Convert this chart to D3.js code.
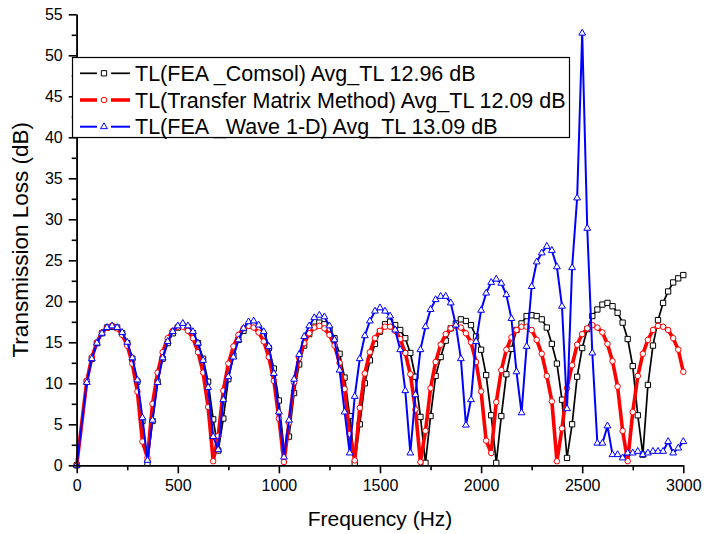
<!DOCTYPE html>
<html>
<head>
<meta charset="utf-8">
<script src="https://cdn.jsdelivr.net/npm/d3@7/dist/d3.min.js"></script>
<style>
  html, body { margin: 0; padding: 0; background: #fff; }
  svg { display: block; }
  text { font-family: "Liberation Sans", Arial, sans-serif; fill: #000; }
</style>
</head>
<body>
<svg id="chart" width="704" height="534"></svg>
<script>
// ---------- data ----------
const freq = [0, 50, 75, 100, 125, 150, 175, 200, 225, 250, 275, 300, 325, 350, 375, 400, 425, 450, 475, 500,
  525, 550, 575, 600, 625, 650, 675, 700, 725, 750, 775, 800, 825, 850, 875, 900, 925, 950, 975, 1000,
  1025, 1050, 1075, 1100, 1125, 1150, 1175, 1200, 1225, 1250, 1275, 1300, 1325, 1350, 1375, 1400, 1425, 1450, 1475, 1500,
  1525, 1550, 1575, 1600, 1625, 1650, 1675, 1700, 1725, 1750, 1775, 1800, 1825, 1850, 1875, 1900, 1925, 1950, 1975, 2000,
  2025, 2050, 2075, 2100, 2125, 2150, 2175, 2200, 2225, 2250, 2275, 2300, 2325, 2350, 2375, 2400, 2425, 2450, 2475, 2500,
  2525, 2550, 2575, 2600, 2625, 2650, 2675, 2700, 2725, 2750, 2775, 2800, 2825, 2850, 2875, 2900, 2925, 2950, 2975, 3000];

const tlComsol = [0, 10.2, 13.0, 14.9, 16.1, 16.8, 16.9, 16.8, 16.1, 14.9, 13.0, 10.2, 5.4, 0.3, 5.4, 10.2, 13.0, 14.9, 16.1, 16.8,
  17.0, 16.8, 16.1, 14.9, 13.0, 10.2, 5.6, 1.8, 5.7, 10.5, 13.4, 15.3, 16.4, 17.0, 17.2, 16.7, 15.8, 14.3, 11.8, 7.9,
  2.0, 3.5, 8.8, 12.3, 14.6, 16.0, 16.9, 17.4, 17.2, 16.6, 15.5, 13.6, 10.7, 6.0, 0.3, 5.0, 10.0, 12.8, 14.8, 16.3,
  17.2, 17.5, 17.1, 16.5, 15.5, 13.7, 10.8, 5.9, 0.3, 6.0, 10.9, 13.2, 15.2, 16.7, 17.3, 17.8, 17.6, 17.1, 15.7, 14.1,
  11.0, 6.1, 0.3, 6.0, 11.1, 14.2, 16.5, 17.3, 18.2, 18.3, 18.2, 17.8, 16.8, 14.8, 12.4, 8.0, 0.9, 5.0, 10.8, 14.3,
  16.6, 18.2, 19.0, 19.6, 19.8, 19.4, 18.6, 17.4, 15.4, 12.1, 6.1, 1.3, 9.8, 14.6, 17.7, 19.8, 21.2, 22.3, 22.8, 23.2];

const tlTMM = [0, 10.3, 13.2, 15.0, 16.2, 16.8, 17.0, 16.7, 15.9, 14.6, 12.4, 9.0, 2.9, 0.9, 7.5, 11.3, 13.8, 15.5, 16.4, 16.9,
  16.9, 16.4, 15.5, 13.8, 11.3, 7.1, 0.5, 3.6, 9.1, 12.4, 14.5, 15.9, 16.7, 17.0, 16.8, 16.2, 15.1, 13.2, 10.3, 5.7,
  0.4, 5.2, 10.1, 13.1, 14.9, 16.1, 16.8, 17.0, 16.7, 15.9, 14.6, 12.5, 9.3, 3.8, 0.6, 7.0, 11.2, 13.8, 15.5, 16.4,
  16.9, 16.9, 16.4, 15.4, 13.7, 11.1, 6.8, 0.4, 4.2, 9.4, 12.6, 14.7, 16.0, 16.7, 17.0, 16.8, 16.1, 15.0, 12.6, 9.0,
  3.0, 1.5, 7.7, 11.6, 14.1, 15.6, 16.5, 16.9, 16.9, 16.5, 15.3, 13.6, 10.9, 7.8, 0.5, 4.5, 9.4, 12.2, 14.7, 16.0,
  16.7, 17.1, 16.8, 16.2, 14.8, 12.7, 9.6, 4.2, 0.5, 6.5, 10.9, 13.6, 15.3, 16.5, 17.0, 16.9, 16.5, 15.5, 14.1, 11.4];

const tlWave = [0, 10.1, 13.0, 14.9, 16.1, 16.8, 17.0, 16.8, 16.2, 15.0, 13.1, 10.4, 5.8, 0.6, 5.5, 10.1, 13.1, 15.1, 16.3, 17.0,
  17.3, 17.0, 16.3, 14.9, 12.8, 9.5, 3.5, 1.9, 8.0, 10.8, 13.2, 15.3, 16.7, 17.5, 17.6, 17.1, 16.3, 14.5, 11.2, 6.5,
  1.0, 5.5, 10.5, 13.5, 15.7, 17.0, 18.0, 18.3, 18.1, 17.0, 15.3, 11.6, 6.5, 1.5, 8.4, 13.0, 15.8, 17.6, 18.8, 19.2,
  18.8, 18.2, 16.5, 14.1, 9.1, 1.5, 8.6, 14.1, 16.9, 19.0, 20.2, 20.6, 20.6, 19.8, 17.1, 13.0, 4.9, 8.0, 15.1, 18.9,
  21.0, 22.3, 22.7, 22.2, 20.8, 17.9, 11.4, 6.4, 14.5, 21.8, 24.8, 25.9, 26.7, 26.2, 24.2, 19.4, 6.9, 24.1, 32.6, 52.7,
  28.9, 13.7, 2.7, 2.7, 4.8, 1.3, 1.3, 0.9, 1.5, 1.5, 1.7, 1.3, 1.5, 1.7, 1.7, 1.7, 2.9, 1.5, 2.1, 2.9];

const xTicks = [0, 500, 1000, 1500, 2000, 2500, 3000];
const xMinorTicks = [250, 750, 1250, 1750, 2250, 2750];
const yTicks = [0, 5, 10, 15, 20, 25, 30, 35, 40, 45, 50, 55];
const yMinorTicks = [2.5, 7.5, 12.5, 17.5, 22.5, 27.5, 32.5, 37.5, 42.5, 47.5, 52.5];

const seriesNames = [
  "TL(FEA _Comsol) Avg_TL 12.96 dB",
  "TL(Transfer Matrix Method) Avg_TL 12.09 dB",
  "TL(FEA _Wave 1-D) Avg_TL 13.09 dB"
];
const xTitle = "Frequency (Hz)";
const yTitle = "Transmission Loss (dB)";

// ---------- drawing ----------
const svg = d3.select("#chart");
const x = d3.scaleLinear().domain([0, 3000]).range([76.7, 683.3]);
const y = d3.scaleLinear().domain([0, 55]).range([465.3, 14.3]);

const series = [
  { name: seriesNames[0], values: tlComsol, color: "#000000", width: 1.7, symbol: d3.symbolSquare, size: 28 },
  { name: seriesNames[1], values: tlTMM, color: "#ff0000", width: 3.6, symbol: d3.symbolCircle, size: 24 },
  { name: seriesNames[2], values: tlWave, color: "#0000ff", width: 2.0, symbol: d3.symbolTriangle, size: 20 }
];

const line = d3.line().x(d => x(d[0])).y(d => y(d[1]));

series.forEach(s => {
  const pts = freq.map((f, i) => [f, s.values[i]]);
  const g = svg.append("g");
  g.append("path").datum(pts).attr("d", line)
    .attr("fill", "none").attr("stroke", s.color).attr("stroke-width", s.width)
    .attr("stroke-linejoin", "round");
  g.selectAll("path.sym").data(pts).enter().append("path").attr("class", "sym")
    .attr("d", d3.symbol().type(s.symbol).size(s.size))
    .attr("transform", d => `translate(${x(d[0])},${y(d[1])})`)
    .attr("fill", "#fff").attr("stroke", s.color).attr("stroke-width", 1);
});

// axes
const xAxis = svg.append("g").attr("transform", `translate(0,${y(0)})`)
  .call(d3.axisBottom(x).tickValues(xTicks).tickSize(8).tickSizeOuter(0).tickPadding(6).tickFormat(d3.format("d")));
const xMinor = svg.append("g").attr("transform", `translate(0,${y(0)})`)
  .call(d3.axisBottom(x).tickValues(xMinorTicks).tickSize(5).tickSizeOuter(0).tickFormat(""));
const yAxis = svg.append("g").attr("transform", `translate(${x(0)},0)`)
  .call(d3.axisLeft(y).tickValues(yTicks).tickSize(8).tickSizeOuter(0).tickPadding(6).tickFormat(d3.format("d")));
const yMinor = svg.append("g").attr("transform", `translate(${x(0)},0)`)
  .call(d3.axisLeft(y).tickValues(yMinorTicks).tickSize(5).tickSizeOuter(0).tickFormat(""));

[xAxis, xMinor, yAxis, yMinor].forEach(a => {
  a.selectAll("path.domain").attr("stroke", "#000").attr("stroke-width", 1.6);
  a.selectAll(".tick line").attr("stroke", "#000").attr("stroke-width", 1.6);
  a.selectAll(".tick text").attr("font-size", 16).attr("font-family", "Liberation Sans, Arial, sans-serif").attr("fill", "#000");
});

// axis titles
svg.append("text").attr("x", (x(0) + x(3000)) / 2).attr("y", 526)
  .attr("text-anchor", "middle").attr("font-size", 21).text(xTitle);
svg.append("text").attr("transform", `translate(28,${(y(0) + y(55)) / 2}) rotate(-90)`)
  .attr("text-anchor", "middle").attr("font-size", 22.5).text(yTitle);

// legend
const leg = svg.append("g");
leg.append("rect").attr("x", 72.5).attr("y", 57.5).attr("width", 497).attr("height", 80)
  .attr("fill", "#fff").attr("stroke", "#000").attr("stroke-width", 1.2);
const rowY = [73.3, 100, 126.7];
series.forEach((s, i) => {
  const r = leg.append("g").attr("transform", `translate(0,${rowY[i]})`);
  r.append("line").attr("x1", 80).attr("x2", 97).attr("y1", 0).attr("y2", 0)
    .attr("stroke", s.color).attr("stroke-width", s.width);
  r.append("line").attr("x1", 111).attr("x2", 130).attr("y1", 0).attr("y2", 0)
    .attr("stroke", s.color).attr("stroke-width", s.width);
  r.append("path").attr("d", d3.symbol().type(s.symbol).size(s.size)())
    .attr("transform", "translate(104,0)")
    .attr("fill", "#fff").attr("stroke", s.color).attr("stroke-width", 1);
  r.append("text").attr("x", 135).attr("y", 0).attr("dy", "0.36em")
    .attr("font-size", 21.5).text(s.name);
});
</script>
</body>
</html>
